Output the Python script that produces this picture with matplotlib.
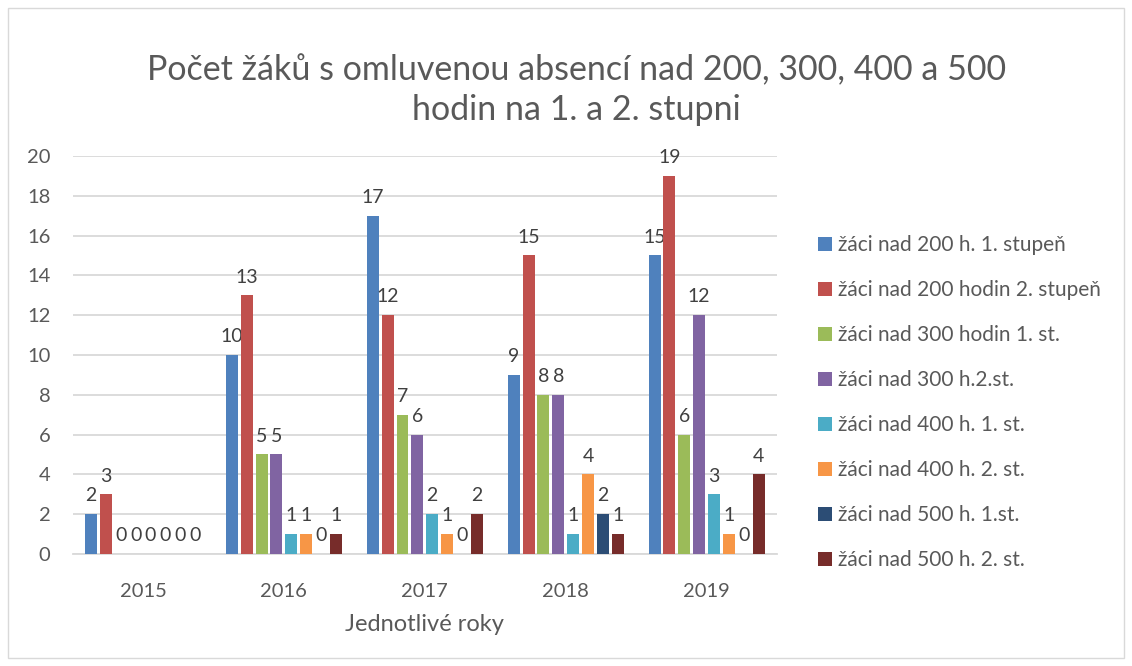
import numpy as np
import matplotlib
matplotlib.use('Agg')
import matplotlib.pyplot as plt
from matplotlib.patches import Rectangle

plt.rcParams['font.family'] = ['Lato', 'DejaVu Sans']

#############################################################
years = ['2015', '2016', '2017', '2018', '2019']
series_names = ['žáci nad 200 h. 1. stupeň',
                'žáci nad 200 hodin 2. stupeň',
                'žáci nad 300 hodin 1. st.',
                'žáci nad 300 h.2.st.',
                'žáci nad 400 h. 1. st.',
                'žáci nad 400 h. 2. st.',
                'žáci nad 500 h. 1.st.',
                'žáci nad 500 h. 2. st.']
s200_1 = [2, 10, 17, 9, 15]
s200_2 = [3, 13, 12, 15, 19]
s300_1 = [0, 5, 7, 8, 6]
s300_2 = [0, 5, 6, 8, 12]
s400_1 = [0, 1, 2, 1, 3]
s400_2 = [0, 1, 1, 4, 1]
s500_1 = [0, 0, 0, 2, 0]
s500_2 = [0, 1, 2, 1, 4]
series = [s200_1, s200_2, s300_1, s300_2, s400_1, s400_2, s500_1, s500_2]
colors = ['#4F81BD', '#C0504D', '#9BBB59', '#8064A2',
          '#4BACC6', '#F79646', '#2C4D75', '#772C2A']

TXT = '#595959'
#############################################################
fig = plt.figure(figsize=(11.32, 6.66), dpi=100)
ax = fig.add_axes([0.0641, 0.1682, 0.6223, 0.5976])

x = np.arange(len(years))
step = 0.1054
width = 0.085
for i, (vals, c) in enumerate(zip(series, colors)):
    off = (i - 3.5) * step
    bars = ax.bar(x + off, vals, width, color=c, label=series_names[i], zorder=3)
    ax.bar_label(bars, labels=[str(v) for v in vals], padding=7,
                 fontsize=14, color='#404040')

ax.set_xlim(-0.5, len(years) - 0.5)
ax.set_ylim(0, 20)
ax.set_yticks(range(0, 21, 2))
ax.set_xticks(x)
ax.set_xticklabels(years)
ax.tick_params(axis='both', length=0, labelsize=14.5, colors=TXT)
ax.tick_params(axis='x', pad=21)
ax.tick_params(axis='y', pad=16)
ax.grid(axis='y', color='#D9D9D9', linewidth=1.3, zorder=0)
for s in ['top', 'right', 'left']:
    ax.spines[s].set_visible(False)
ax.spines['bottom'].set_color('#D9D9D9')
ax.spines['bottom'].set_linewidth(1.3)
ax.set_xlabel('Jednotlivé roky', fontsize=17, color=TXT, labelpad=10)

fig.text(0.509, 0.864, 'Počet žáků s omluvenou absencí nad 200, 300, 400 a 500\nhodin na 1. a 2. stupni',
         ha='center', va='center', fontsize=24.5, color=TXT, linespacing=1.3)

leg = fig.legend(loc='upper left', bbox_to_anchor=(0.7226, 0.647), frameon=False,
                 borderpad=0, borderaxespad=0,
                 fontsize=15, labelcolor=TXT, handlelength=0.68, handleheight=0.68,
                 handletextpad=0.3, labelspacing=1.2)

fig.patches.append(Rectangle((0.007, 0.012), 0.986, 0.976, transform=fig.transFigure,
                             fill=False, edgecolor='#D9D9D9', linewidth=1))

plt.savefig('out.png', dpi=100)
